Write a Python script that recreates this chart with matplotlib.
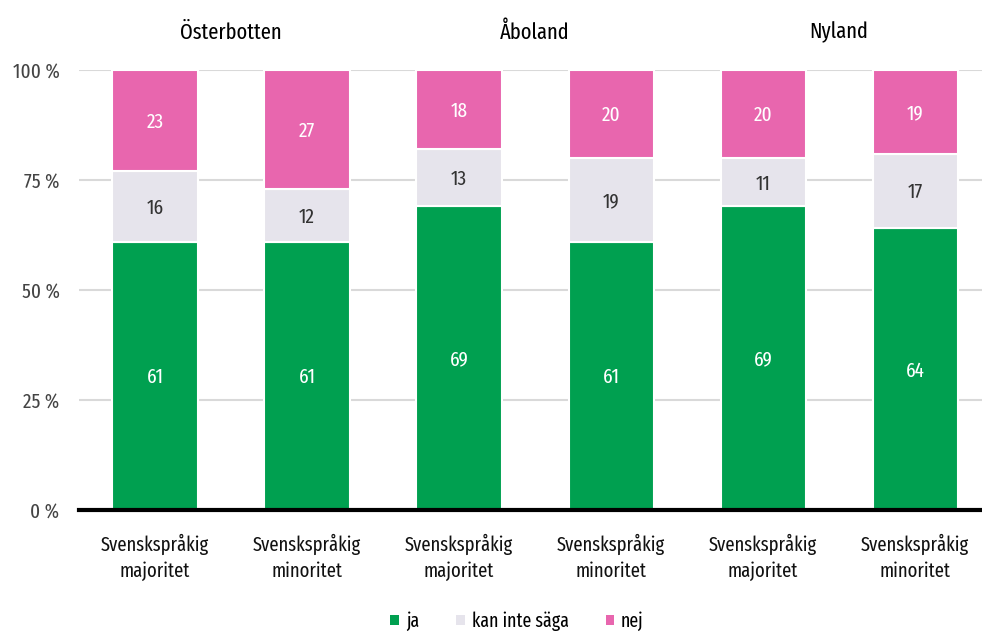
import matplotlib
matplotlib.use("Agg")
import matplotlib.pyplot as plt
import numpy as np

plt.rcParams["font.family"] = ["Fira Sans Extra Condensed", "DejaVu Sans"]

regions = ["Österbotten", "Åboland", "Nyland"]
categories = ["Svenskspråkig\nmajoritet", "Svenskspråkig\nminoritet"] * 3
ja = [61, 61, 69, 61, 69, 64]
kan_inte = [16, 12, 13, 19, 11, 17]
nej = [23, 27, 18, 20, 20, 19]
series_names = ["ja", "kan inte säga", "nej"]
yticks = [0, 25, 50, 75, 100]

colors = ["#00A050", "#E6E4EC", "#E866AE"]
text_colors = ["white", "#333333", "white"]

fig = plt.figure(figsize=(9.82, 6.34), dpi=100)
ax = fig.add_axes([79 / 982, 1 - 510 / 634, 1 - 79 / 982, 440 / 634])

x = np.arange(len(categories))
bottom = np.zeros(len(categories))
for vals, col, tcol, name in zip([ja, kan_inte, nej], colors, text_colors, series_names):
    vals = np.array(vals, dtype=float)
    ax.bar(x, vals, bottom=bottom, width=0.56, color=col,
           edgecolor="white", linewidth=1.5, label=name, zorder=3)
    for xi, b, v in zip(x, bottom, vals):
        ax.text(xi, b + v / 2 - 0.4, f"{int(v)}", ha="center", va="center",
                color=tcol, fontsize=15, zorder=4)
    bottom += vals

ax.set_xlim(-0.5, 5.44)
ax.set_ylim(0, 100)
ax.set_yticks(yticks)
ax.set_yticklabels([f"{t} %" for t in yticks], fontsize=15, color="#444444")
ax.set_xticks(x)
ax.set_xticklabels(categories, fontsize=14.5, color="#111111", linespacing=1.45)
ax.tick_params(axis="both", length=0)
ax.tick_params(axis="y", pad=14)
ax.tick_params(axis="x", pad=17)
ax.yaxis.grid(True, color="#D9D9D9", linewidth=1.5, zorder=0)
for s in ["top", "right", "left"]:
    ax.spines[s].set_visible(False)
ax.spines["bottom"].set_color("black")
ax.spines["bottom"].set_linewidth(3)
ax.spines["bottom"].set_zorder(5)

for i, r in enumerate(regions):
    ax.text(2 * i + 0.5, 1.085, r, transform=ax.get_xaxis_transform(),
            ha="center", va="center", fontsize=16, color="black")

handles, labels = ax.get_legend_handles_labels()
leg = fig.legend(handles, labels, loc="center", bbox_to_anchor=(517 / 982, 1 - 621 / 634),
                 ncol=3, frameon=False, fontsize=14, handlelength=0.45, handleheight=0.45,
                 columnspacing=1.9, handletextpad=0.35)
for h in leg.legend_handles:
    h.set_edgecolor("none")

fig.savefig("out.png", dpi=100)
